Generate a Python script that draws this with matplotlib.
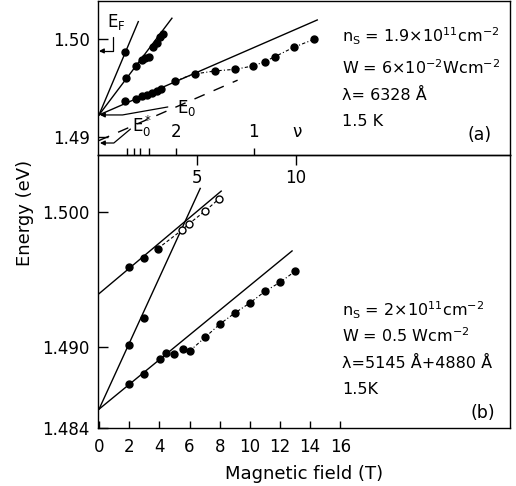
import numpy as np
import matplotlib.pyplot as plt

# ---- panel (a): ns = 1.9e11 cm^-2, 6328 A ----
# fitted lines (B in T, E in eV), endpoints
a_line_steep_B = [0, 2.0]
a_line_steep_E = [1.49223, 1.50181]
a_line_mid_B = [0, 3.71]
a_line_mid_E = [1.49223, 1.50216]
a_line_E0_B = [0, 11.1]
a_line_E0_E = [1.49223, 1.50198]
a_line_E0s_B = [0, 7.05]
a_line_E0s_E = [1.4896, 1.4958]

# data points
a_steep_B = [1.33]
a_steep_E = [1.49867]
a_mid_B = [1.38, 1.87, 2.18, 2.35, 2.52, 2.77, 2.94, 3.11, 3.25]
a_mid_E = [1.49600, 1.49729, 1.49787, 1.49805, 1.49821, 1.49924, 1.49959, 1.50021, 1.50054]
a_E0_B = [1.33, 1.89, 2.2, 2.45, 2.7, 2.95, 3.15, 3.88, 4.86, 5.92, 6.94, 7.84, 8.43, 8.94, 9.91, 10.92]
a_E0_E = [1.49367, 1.49390, 1.49413, 1.49432, 1.49450, 1.49470, 1.49490, 1.49575, 1.49644,
          1.49675, 1.49692, 1.49726, 1.49770, 1.49821, 1.49918, 1.49998]

# filling factor marks (B positions) and labels
nu_B = [1.45, 1.79, 2.09, 2.56, 3.93, 7.86]
nu_labels = ['', '', '', '', '2', '1']

E_F = 1.4988
E_0 = 1.49223
E_0s = 1.48935

# ---- panel (b): ns = 2e11 cm^-2, 5145 A + 4880 A ----
b_line_up_B = [0, 8.1]
b_line_up_E = [1.49397, 1.50158]
b_line_steep_B = [0, 6.71]
b_line_steep_E = [1.4854, 1.50178]
b_line_low_B = [0, 12.8]
b_line_low_E = [1.4854, 1.49714]

b_up_B = [2.0, 3.0, 3.9]
b_up_E = [1.49595, 1.49662, 1.49732]
b_open_B = [5.49, 5.98, 7.04, 7.93]
b_open_E = [1.49868, 1.49917, 1.50011, 1.50098]
b_steep_B = [2.01, 2.99]
b_steep_E = [1.49018, 1.49219]
b_low_B = [1.99, 2.99, 4.01, 4.45, 4.98, 5.56, 6.0, 7.04, 8.04, 9.04, 9.99, 11.03, 12.03, 13.02]
b_low_E = [1.48728, 1.48802, 1.48909, 1.48955, 1.48946, 1.48983, 1.48970, 1.49074, 1.49174,
           1.49256, 1.49327, 1.49416, 1.49483, 1.49565]

plt.rcParams['font.family'] = 'DejaVu Sans'
plt.rcParams['mathtext.fontset'] = 'dejavusans'
plt.rcParams['axes.linewidth'] = 1.0

fig = plt.figure(figsize=(5.16, 4.86), dpi=100)
ax_a = fig.add_axes([0.1899, 0.6811, 0.7984, 0.3169])
ax_b = fig.add_axes([0.1899, 0.1193, 0.7984, 0.5618])
ax_a.set_zorder(3)
ax_a.patch.set_visible(False)

lw = 1.0
dot = dict(marker='o', ms=5, color='k', ls='none')
conn = dict(color='k', lw=0.8, ls=(0, (3, 2, 1, 2)))

# panel (a)
ax_a.plot(a_line_steep_B, a_line_steep_E, 'k-', lw=lw)
ax_a.plot(a_line_mid_B, a_line_mid_E, 'k-', lw=lw)
ax_a.plot(a_line_E0_B, a_line_E0_E, 'k-', lw=lw)
ax_a.plot(a_line_E0s_B, a_line_E0s_E, color='k', lw=lw, ls=(0, (8, 7)))
ax_a.plot(a_E0_B[7:], a_E0_E[7:], **conn)
ax_a.plot(a_steep_B, a_steep_E, **dot)
ax_a.plot(a_mid_B, a_mid_E, **dot)
ax_a.plot(a_E0_B, a_E0_E, **dot)

ax_a.set_xlim(-0.05, 20.9)
ax_a.set_ylim(1.48812, 1.50393)
ax_a.set_xticks([5, 10])
ax_a.set_xticklabels(['5', '10'])
ax_a.set_xticks(nu_B, minor=True)
ax_a.tick_params(axis='x', which='major', direction='out', length=7, width=1, pad=3, labelsize=12)
ax_a.tick_params(axis='x', which='minor', direction='in', length=5, width=1)
ax_a.set_yticks([1.49, 1.50])
ax_a.set_yticklabels(['1.49', '1.50'])
ax_a.tick_params(axis='y', direction='in', length=7, width=1, pad=6, labelsize=12)

for b, lab in zip(nu_B, nu_labels):
    if lab:
        ax_a.text(b, 0.15, lab, transform=ax_a.get_xaxis_transform(),
                  ha='center', va='center', fontsize=12)
ax_a.text(10.05, 0.15, 'ν', transform=ax_a.get_xaxis_transform(),
          ha='center', va='center', fontsize=12)

arr = dict(arrowstyle='-|>', color='k', lw=0.9, shrinkA=0, shrinkB=0, mutation_scale=7)
ax_a.text(0.87, 1.50178, r'E$_\mathrm{F}$', ha='center', va='center', fontsize=12)
ax_a.annotate('', xy=(0.0, E_F), xytext=(0.71, 1.50023),
              arrowprops=dict(connectionstyle='angle,angleA=90,angleB=0,rad=0', **arr))
ax_a.text(4.45, 1.49290, r'E$_0$', ha='center', va='center', fontsize=12)
ax_a.annotate('', xy=(0.05, E_0), xytext=(3.5, 1.49305),
              arrowprops=dict(connectionstyle='angle,angleA=10,angleB=0,rad=0', **arr))
ax_a.text(2.2, 1.49110, r'E$_0^*$', ha='center', va='center', fontsize=12)
ax_a.annotate('', xy=(0.05, E_0s), xytext=(1.6, 1.49078),
              arrowprops=dict(connectionstyle='angle,angleA=40,angleB=0,rad=0', **arr))

fs = 11.5
txt_a = [r'n$_\mathrm{S}$ = 1.9×10$^{11}$cm$^{-2}$',
         r'W = 6×10$^{-2}$Wcm$^{-2}$',
         'λ= 6328 Å',
         '1.5 K']
for s, y in zip(txt_a, [0.734, 0.526, 0.357, 0.188]):
    ax_a.text(0.592, y, s, transform=ax_a.transAxes, ha='left', va='baseline', fontsize=fs)
ax_a.text(0.927, 0.13, '(a)', transform=ax_a.transAxes, ha='center', va='center', fontsize=12.5)

# panel (b)
ax_b.plot(b_line_up_B, b_line_up_E, 'k-', lw=lw)
ax_b.plot(b_line_steep_B, b_line_steep_E, 'k-', lw=lw)
ax_b.plot(b_line_low_B, b_line_low_E, 'k-', lw=lw)
ax_b.plot(b_up_B[-1:] + b_open_B, b_up_E[-1:] + b_open_E, color='k', lw=0.8, ls=(0, (3, 2)))
ax_b.plot(b_low_B[6:], b_low_E[6:], **conn)
ax_b.plot(b_up_B, b_up_E, **dot)
ax_b.plot(b_steep_B, b_steep_E, **dot)
ax_b.plot(b_low_B, b_low_E, **dot)
ax_b.plot(b_open_B, b_open_E, marker='o', ms=5, mfc='white', mec='k', mew=1, ls='none')

ax_b.set_xlim(-0.07, 27.25)
ax_b.set_ylim(1.484, 1.50426)
ax_b.set_xticks(np.arange(0, 17, 2))
ax_b.tick_params(axis='x', direction='in', length=5, width=1, pad=7, labelsize=12)
ax_b.set_yticks([1.484, 1.490, 1.500])
ax_b.set_yticklabels(['1.484', '1.490', '1.500'])
ax_b.tick_params(axis='y', direction='in', length=7, width=1, pad=6, labelsize=12)
ax_b.set_xlabel('Magnetic field (T)', fontsize=13, labelpad=7)

txt_b = [r'n$_\mathrm{S}$ = 2×10$^{11}$cm$^{-2}$',
         r'W = 0.5 Wcm$^{-2}$',
         'λ=5145 Å+4880 Å',
         '1.5K']
for s, y in zip(txt_b, [0.410, 0.316, 0.218, 0.125]):
    ax_b.text(0.592, y, s, transform=ax_b.transAxes, ha='left', va='baseline', fontsize=fs)
ax_b.text(0.934, 0.056, '(b)', transform=ax_b.transAxes, ha='center', va='center', fontsize=12.5)

fig.text(25 / 516, 1 - 213 / 486, 'Energy (eV)', rotation=90, ha='center', va='center', fontsize=13)

fig.savefig('out.png', dpi=100)
